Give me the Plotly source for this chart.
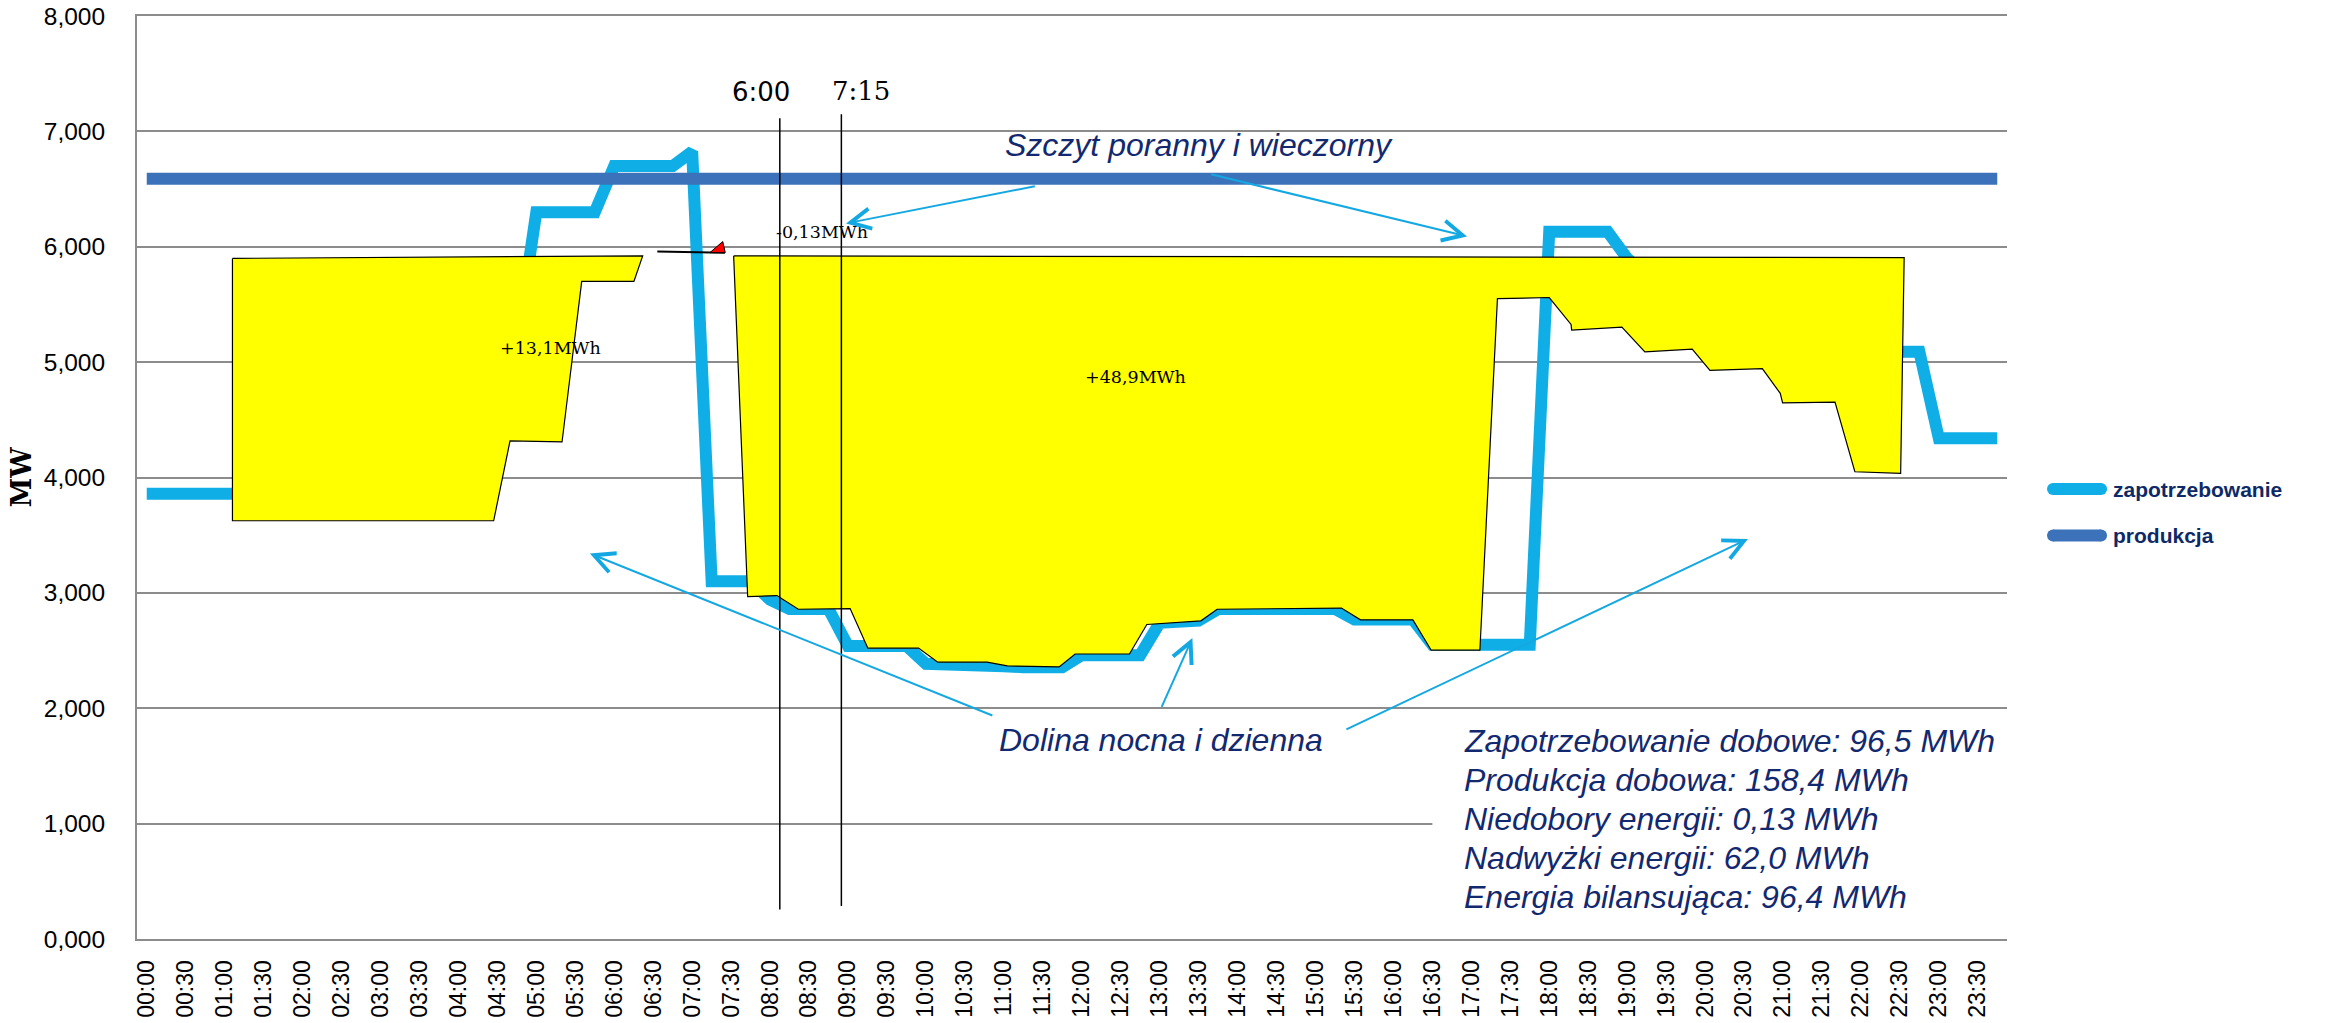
import plotly.graph_objects as go

# ---------------- data ----------------
times = [f"{h:02d}:{m:02d}" for h in range(24) for m in (0, 15, 30, 45)]
slot = list(range(len(times)))

tick_slots = slot[::2]
tick_text = times[::2]

y_ticks = [0, 1000, 2000, 3000, 4000, 5000, 6000, 7000, 8000]
y_tick_text = ["0,000", "1,000", "2,000", "3,000", "4,000", "5,000", "6,000", "7,000", "8,000"]

demand = [
    3860, 3860, 3860, 3860, 3860, 3860, 3860, 3860,   # 00:00-01:45
    3860, 3860, 3860, 3860, 3860, 3860, 3860, 3860,   # 02:00-03:45
    3860, 3860, 4300, 5160, 6300, 6300, 6300, 6300,   # 04:00-05:45
    6700, 6700, 6700, 6700, 6825, 3100, 3100, 3100,   # 06:00-07:45
    2940, 2860, 2860, 2860, 2540, 2540, 2540, 2540,   # 08:00-09:45
    2385, 2385, 2385, 2385, 2365, 2355, 2355, 2355,   # 10:00-11:45
    2460, 2460, 2460, 2460, 2740, 2745, 2760, 2860,   # 12:00-13:45
    2860, 2860, 2860, 2860, 2860, 2860, 2770, 2770,   # 14:00-15:45
    2770, 2770, 2550, 2550, 2550, 2550, 2550, 2550,   # 16:00-17:45
    6130, 6130, 6130, 6130, 5900, 5750, 5750, 5750,   # 18:00-19:45
    5600, 5600, 5600, 5600, 5450, 5450, 5450, 5450,   # 20:00-21:45
    5300, 5200, 5090, 5090, 4340, 4340, 4340, 4340,   # 22:00-23:45
]

production = [
    6590, 6590, 6590, 6590, 6590, 6590, 6590, 6590,
    6590, 6590, 6590, 6590, 6590, 6590, 6590, 6590,
    6590, 6590, 6590, 6590, 6590, 6590, 6590, 6590,
    6590, 6590, 6590, 6590, 6590, 6590, 6590, 6590,
    6590, 6590, 6590, 6590, 6590, 6590, 6590, 6590,
    6590, 6590, 6590, 6590, 6590, 6590, 6590, 6590,
    6590, 6590, 6590, 6590, 6590, 6590, 6590, 6590,
    6590, 6590, 6590, 6590, 6590, 6590, 6590, 6590,
    6590, 6590, 6590, 6590, 6590, 6590, 6590, 6590,
    6590, 6590, 6590, 6590, 6590, 6590, 6590, 6590,
    6590, 6590, 6590, 6590, 6590, 6590, 6590, 6590,
    6590, 6590, 6590, 6590, 6590, 6590, 6590, 6590,
]

series_names = ["zapotrzebowanie", "produkcja"]

# surplus areas (freeform outlines, slot / MW)
surplus_night_x = [4.40, 25.46, 25.01, 22.33, 21.32, 18.65, 17.81, 4.40, 4.40]
surplus_night_y = [5899, 5921, 5700, 5700, 4308, 4318, 3625, 3625, 5899]

surplus_day_x = [30.13, 30.85, 32.35, 33.45, 36.11, 37.02, 39.62, 40.61, 43.14, 44.18,
                 46.84, 47.66, 50.45, 51.34, 54.12, 54.95, 61.33, 62.31, 65.00, 65.94,
                 68.44, 69.34, 72.00, 73.12, 73.15, 75.73, 76.91, 79.34, 80.25, 82.94,
                 83.86, 83.98, 86.67, 87.69, 90.04, 90.22, 30.13]
surplus_day_y = [5921, 2967, 2977, 2858, 2864, 2521, 2521, 2399, 2399, 2367,
                 2358, 2470, 2470, 2726, 2758, 2858, 2868, 2766, 2766, 2503,
                 2503, 5550, 5560, 5327, 5278, 5304, 5089, 5112, 4929, 4943,
                 4730, 4647, 4654, 4050, 4036, 5906, 5921]

# deficit marker
deficit_line_x = [26.21, 29.68]
deficit_line_y = [5958, 5949]
deficit_tri_x = [28.91, 29.57, 29.70, 28.91]
deficit_tri_y = [5949, 6045, 5949, 5949]

# time markers
marker_x = [32.50, 35.66]
marker_y0 = [255, 285]
marker_y1 = [7114, 7149]
marker_text = ["6:00", "7:15"]
marker_text_x = [31.51, 36.67]
marker_text_y = [7345, 7354]
marker_fonts = ["DejaVu Sans", "DejaVu Serif"]

# energy labels
energy_text = ["+13,1MWh", "+48,9MWh", "-0,13MWh"]
energy_x = [20.74, 50.74, 34.69]
energy_y = [5119, 4869, 6131]

# callouts
callout_text = ["Szczyt poranny i wieczorny", "Dolina nocna i dzienna"]
callout_x = [54.04, 52.07]
callout_y = [6883, 1725]

# arrows: tail -> head
arrow_tail_x = [45.67, 54.56, 43.49, 52.07, 61.51]
arrow_tail_y = [6527, 6631, 1932, 1999, 1810]
arrow_head_x = [35.90, 67.78, 22.75, 53.68, 82.20]
arrow_head_y = [6202, 6089, 3341, 2608, 3467]

stats_lines = [
    "Zapotrzebowanie dobowe: 96,5 MWh",
    "Produkcja dobowa: 158,4 MWh",
    "Niedobory energii: 0,13 MWh",
    "Nadwyżki energii: 62,0 MWh",
    "Energia bilansująca: 96,4 MWh",
]
stats_x = 67.52
stats_y = [1714, 1376, 1037, 699, 361]
stats_box = dict(x0=66.0, x1=95.5, y0=150, y1=1900)

# ---------------- styles ----------------
C_DEMAND = "#10AEE6"
C_PROD = "#3B72B9"
C_ARROW = "#14A8E2"
C_NAVY = "#13296F"
C_LEGEND = "#0E2A66"
C_GRID = "#8C8C8C"
series_colors = [C_DEMAND, C_PROD]

fig = go.Figure()

fig.add_trace(go.Scatter(x=slot, y=demand, mode="lines", name=series_names[0],
                         line=dict(color=C_DEMAND, width=12), hoverinfo="skip", showlegend=False))
fig.add_trace(go.Scatter(x=slot, y=production, mode="lines", name=series_names[1],
                         line=dict(color=C_PROD, width=12), hoverinfo="skip", showlegend=False))

for px, py in ((surplus_night_x, surplus_night_y), (surplus_day_x, surplus_day_y)):
    fig.add_trace(go.Scatter(x=px, y=py, mode="lines", fill="toself",
                             fillcolor="#FFFF00", line=dict(color="black", width=1.2),
                             showlegend=False, hoverinfo="skip"))

fig.add_trace(go.Scatter(x=deficit_line_x, y=deficit_line_y, mode="lines",
                         line=dict(color="black", width=2), showlegend=False, hoverinfo="skip"))
fig.add_trace(go.Scatter(x=deficit_tri_x, y=deficit_tri_y, mode="lines", fill="toself",
                         fillcolor="#FF0000", line=dict(color="black", width=1),
                         showlegend=False, hoverinfo="skip"))

for mx, y0, y1 in zip(marker_x, marker_y0, marker_y1):
    fig.add_trace(go.Scatter(x=[mx, mx], y=[y0, y1], mode="lines",
                             line=dict(color="black", width=1.5),
                             showlegend=False, hoverinfo="skip"))

annotations = []
for t, x, y, f in zip(marker_text, marker_text_x, marker_text_y, marker_fonts):
    annotations.append(dict(x=x, y=y, xref="x", yref="y", text=t, showarrow=False,
                            font=dict(family=f, size=26, color="black")))
for t, x, y in zip(energy_text, energy_x, energy_y):
    annotations.append(dict(x=x, y=y, xref="x", yref="y", text=t, showarrow=False,
                            font=dict(family="DejaVu Serif", size=17.5, color="black")))
for t, x, y in zip(callout_text, callout_x, callout_y):
    annotations.append(dict(x=x, y=y, xref="x", yref="y", text=t, showarrow=False,
                            font=dict(family="Liberation Sans", size=32, color=C_NAVY, style="italic")))
for tx, ty, hx, hy in zip(arrow_tail_x, arrow_tail_y, arrow_head_x, arrow_head_y):
    annotations.append(dict(x=hx, y=hy, xref="x", yref="y", ax=tx, ay=ty,
                            axref="x", ayref="y", text="", showarrow=True,
                            arrowhead=5, arrowsize=2, arrowwidth=2, arrowcolor=C_ARROW,
                            standoff=0, startstandoff=0))
for t, y in zip(stats_lines, stats_y):
    annotations.append(dict(x=stats_x, y=y, xref="x", yref="y", text=t, showarrow=False,
                            xanchor="left",
                            font=dict(family="Liberation Sans", size=32, color=C_NAVY, style="italic")))

# manual legend (thick rounded line keys)
legend_y = [0.4875, 0.4372]
shapes = [dict(type="rect", xref="x", yref="y", layer="between",
               fillcolor="white", line=dict(width=0), **stats_box)]
for name, col, ly in zip(series_names, series_colors, legend_y):
    shapes.append(dict(type="line", xref="paper", yref="paper", x0=1.0246, x1=1.0503,
                       y0=ly, y1=ly, line=dict(color=col, width=12)))
    for cx in (1.0246, 1.0503):
        shapes.append(dict(type="circle", xref="paper", yref="paper",
                           xsizemode="pixel", ysizemode="pixel", xanchor=cx, yanchor=ly,
                           x0=-6, x1=6, y0=-6, y1=6, fillcolor=col, line=dict(width=0)))
    annotations.append(dict(x=1.0556, y=ly, xref="paper", yref="paper", text=name,
                            showarrow=False, xanchor="left", yanchor="middle",
                            font=dict(family="Liberation Sans", size=21,
                                      color=C_LEGEND, weight="bold")))

fig.update_layout(
    width=2351, height=1023,
    margin=dict(l=137, r=344, t=16, b=84, autoexpand=False),
    plot_bgcolor="white", paper_bgcolor="white",
    annotations=annotations,
    shapes=shapes,
    showlegend=False,
)

fig.update_xaxes(range=[-0.5, 95.5], tickmode="array", tickvals=tick_slots, ticktext=tick_text,
                 tickangle=-90, tickfont=dict(family="Liberation Sans", size=23, color="black"),
                 showgrid=False, zeroline=False, showline=True, mirror=True, automargin=False,
                 linecolor=C_GRID, linewidth=2, ticks="", ticklabelstandoff=10)
fig.update_yaxes(range=[0, 8000], tickmode="array", tickvals=y_ticks, ticktext=y_tick_text,
                 tickfont=dict(family="Liberation Sans", size=24.5, color="black"),
                 showgrid=True, gridcolor=C_GRID, gridwidth=2, zeroline=False, automargin=False,
                 showline=True, linecolor=C_GRID, linewidth=2, ticks="", ticklabelstandoff=25,
                 title=dict(text="MW", standoff=4,
                            font=dict(family="DejaVu Serif", size=27, color="black", weight="bold")))

fig.write_html("out.html")
